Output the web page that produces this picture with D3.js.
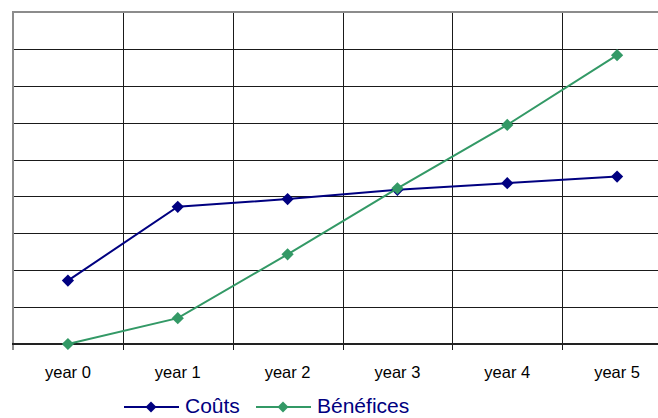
<!DOCTYPE html>
<html>
<head>
<meta charset="utf-8">
<script src="https://cdn.jsdelivr.net/npm/d3@7"></script>
<style>
  body { margin: 0; background: #fff; }
  text { font-family: "Liberation Sans", Arial, sans-serif; }
</style>
</head>
<body>
<svg id="chart" width="658" height="418"></svg>
<script>
"use strict";

// Données (pas d'étiquettes sur l'axe y)
var years = ["year 0", "year 1", "year 2", "year 3", "year 4", "year 5"]
var couts = [1720, 3720, 3930, 4180, 4360, 4540]
var benefices = [0, 700, 2430, 4220, 5940, 7830]
var yTicks = [0, 1000, 2000, 3000, 4000, 5000, 6000, 7000, 8000, 9000]

var seriesNames = ["Coûts", "Bénéfices"]
var seriesColors = ["#000080", "#339966"]

var margin = { left: 13, top: 12, right: 672, bottom: 344 }

/**
 * Crée les échelles du graphique
 *
 * @return {[Band, Linear]}  Les échelles x et y
 */
function createScales() {
    var x = d3.scaleBand()
        .domain(years)
        .range([margin.left, margin.right])
    var y = d3.scaleLinear()
        .domain([0, 9000])
        .range([margin.bottom, margin.top])
    return [x, y]
}

/**
 * Dessine la grille, le cadre et l'axe des x
 */
function drawGrid(g, x, y) {
    // lignes horizontales
    g.append("g")
      .selectAll("line")
      .data(yTicks.slice(1, -1))
      .enter()
      .append("line")
        .attr("x1", margin.left)
        .attr("x2", margin.right)
        .attr("y1", d => Math.round(y(d)) + 0.5)
        .attr("y2", d => Math.round(y(d)) + 0.5)
        .attr("stroke", "#1a1a1a")
        .attr("stroke-width", 1)

    // lignes verticales aux limites des catégories (dépassent sous l'axe = graduations)
    var bounds = years.map(d => x(d)).concat([x.range()[1]])
    g.append("g")
      .selectAll("line")
      .data(bounds.slice(1))
      .enter()
      .append("line")
        .attr("x1", d => Math.round(d) + 0.5)
        .attr("x2", d => Math.round(d) + 0.5)
        .attr("y1", margin.top)
        .attr("y2", margin.bottom + 6)
        .attr("stroke", "#1a1a1a")
        .attr("stroke-width", 1)

    // cadre gris en haut et à gauche
    g.append("line")
        .attr("x1", margin.left).attr("x2", margin.right)
        .attr("y1", y(9000)).attr("y2", y(9000))
        .attr("stroke", "#8c8c8c")
        .attr("stroke-width", 2)
    g.append("line")
        .attr("x1", margin.left).attr("x2", margin.left)
        .attr("y1", margin.top - 1).attr("y2", margin.bottom + 6)
        .attr("stroke", "#8c8c8c")
        .attr("stroke-width", 2)

    // axe x
    var xAxis = d3.axisBottom(x).tickSize(0).tickPadding(0)
    var axis = g.append("g")
        .attr("transform", "translate(0," + y(0) + ")")
        .call(xAxis)
    axis.select(".domain").remove()
    axis.selectAll("text")
        .attr("y", 34)
        .attr("dy", 0)
        .attr("fill", "#000")
        .style("font-size", "16.5px")
        .style("font-family", "'Liberation Sans', Arial, sans-serif")

    g.append("line")
        .attr("x1", margin.left - 1).attr("x2", margin.right)
        .attr("y1", y(0)).attr("y2", y(0))
        .attr("stroke", "#222")
        .attr("stroke-width", 2)
}

/**
 * Dessine une série (ligne + losanges)
 */
function drawSeries(g, x, y, values, color) {
    var line = d3.line()
        .x((d, i) => x(years[i]) + x.bandwidth() / 2)
        .y(d => y(d))

    g.append("path")
        .datum(values)
        .attr("d", line)
        .attr("fill", "none")
        .attr("stroke", color)
        .attr("stroke-width", 2)

    g.append("g")
      .selectAll("path")
      .data(values)
      .enter()
      .append("path")
        .attr("d", d3.symbol().type(d3.symbolSquare).size(75))
        .attr("transform", (d, i) => "translate(" + (x(years[i]) + x.bandwidth() / 2) + "," + y(d) + ") rotate(45)")
        .attr("fill", color)
}

/**
 * Légende en bas du graphique
 */
function legend(g) {
    var offsets = [124, 256]
    var item = g.append("g")
      .selectAll("g")
      .data(seriesNames)
      .enter()
      .append("g")
        .attr("transform", (d, i) => "translate(" + offsets[i] + ",407)")

    item.append("line")
        .attr("x1", 0).attr("x2", 55)
        .attr("stroke", (d, i) => seriesColors[i])
        .attr("stroke-width", 2)
    item.append("path")
        .attr("d", d3.symbol().type(d3.symbolSquare).size(60))
        .attr("transform", "translate(27,0) rotate(45)")
        .attr("fill", (d, i) => seriesColors[i])
    item.append("text")
        .attr("x", 61)
        .attr("y", 6)
        .attr("fill", "#000080")
        .style("font-size", "21px")
        .text(d => d)
}

var svg = d3.select("#chart")
var [x, y] = createScales()
drawGrid(svg, x, y)
drawSeries(svg, x, y, couts, seriesColors[0])
drawSeries(svg, x, y, benefices, seriesColors[1])
legend(svg)
</script>
</body>
</html>
